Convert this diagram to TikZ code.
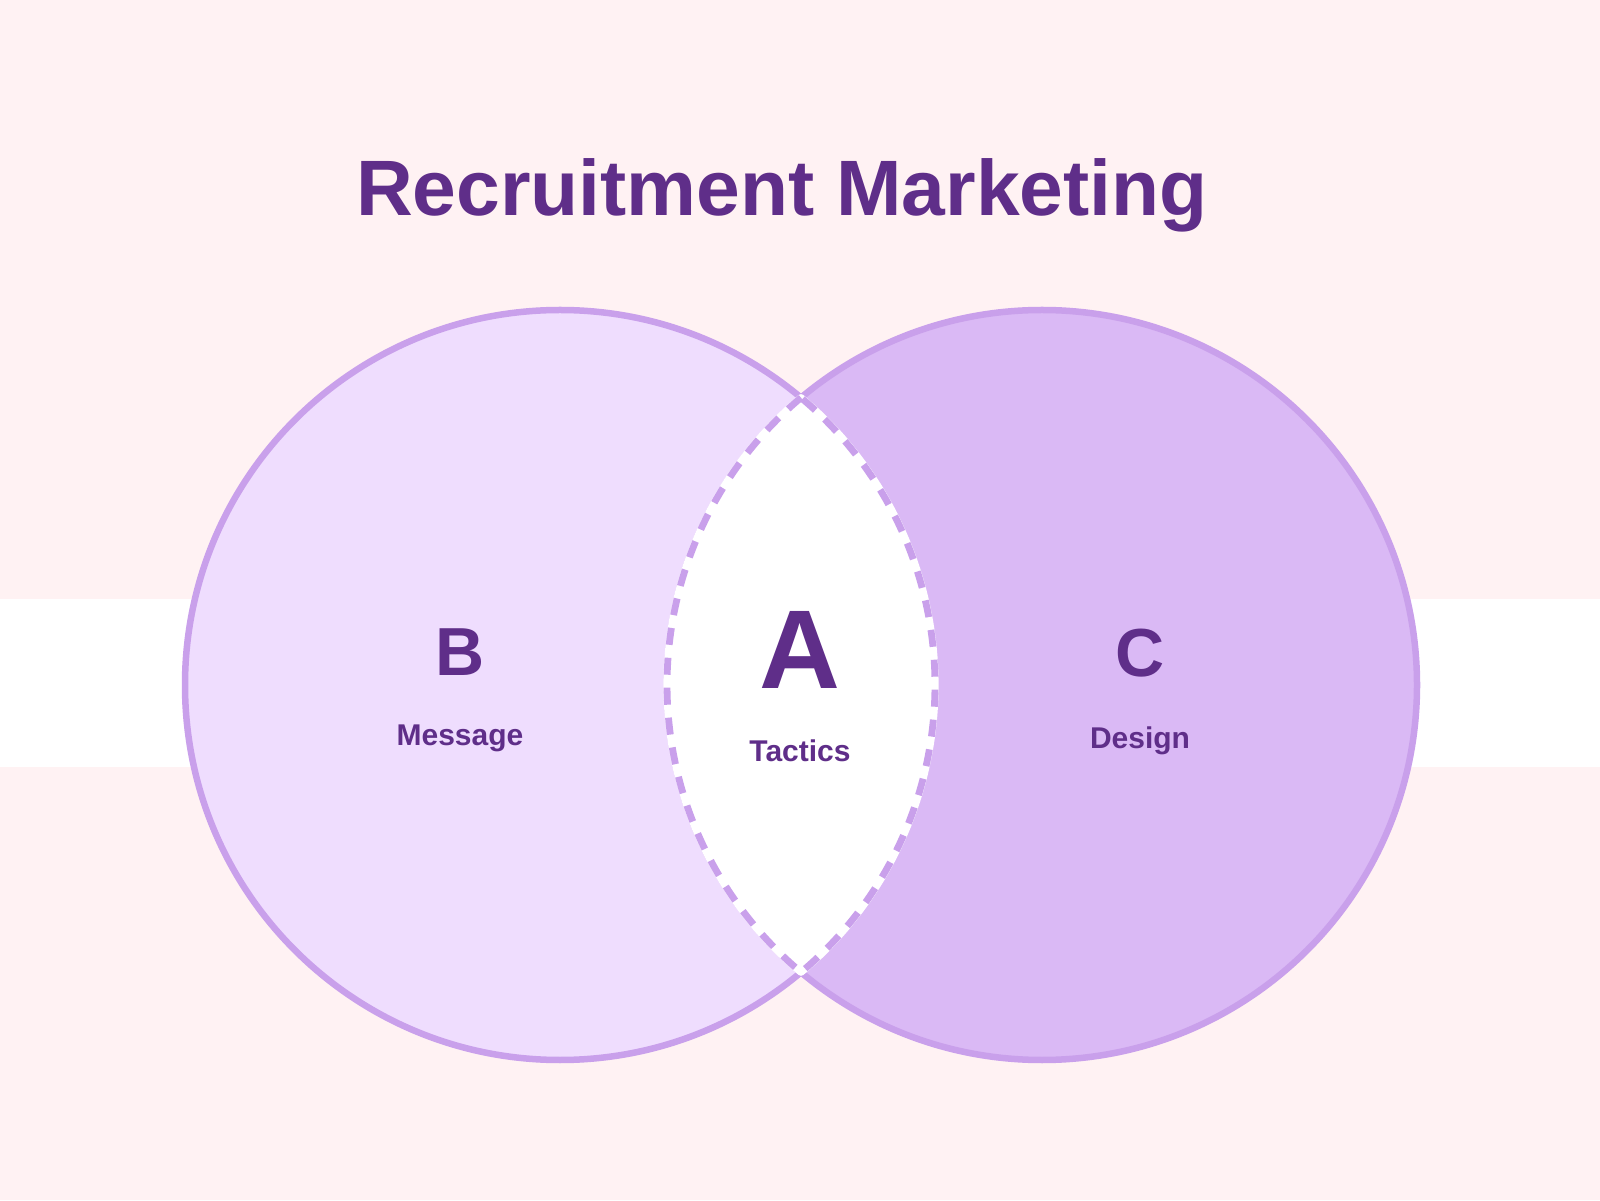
\documentclass[tikz,border=0pt]{standalone}
\usepackage{fontspec}
\setmainfont{Liberation Sans}
\definecolor{bgpink}{HTML}{FFF2F3}
\definecolor{lfill}{HTML}{EFDDFE}
\definecolor{rfill}{HTML}{DAB9F5}
\definecolor{ring}{HTML}{C9A0EB}
\definecolor{ink}{HTML}{5F2E89}
\tikzset{
  ringline/.style={draw=ring, line width=3.25pt},
  lbl/.style={text=ink, font=\bfseries, inner sep=0pt, anchor=base},
  bigletter/.style={lbl, font=\bfseries\fontsize{34pt}{34pt}\selectfont},
  smalltext/.style={lbl, font=\bfseries\fontsize{15pt}{15pt}\selectfont},
}
\begin{document}
\begin{tikzpicture}[x=0.5pt,y=0.5pt]
\useasboundingbox (0,0) rectangle (1600,1200);
\fill[bgpink] (0,0) rectangle (1600,1200);
\fill[white] (0,433) rectangle (1600,601);
% circles
\fill[lfill] (560,515) circle[radius=375];
\draw[ringline] (560,515) circle[radius=375];
\fill[rfill] (1042,515) circle[radius=375];
\draw[ringline] (1042,515) circle[radius=375];
% lens
\coordinate (lt) at (801,802.3);
\filldraw[fill=white, draw=white, line width=3.6pt, line join=round]
  (lt) arc[start angle=130, end angle=230, radius=375]
  arc[start angle=-50, end angle=50, radius=375] -- cycle;
\draw[draw=ring, line width=3.4pt, dash pattern=on 8.5pt off 6.5pt]
  (lt) arc[start angle=130, end angle=230, radius=375]
  arc[start angle=-50, end angle=50, radius=375] -- cycle;
% texts
\node[lbl, font=\bfseries\fontsize{39.3pt}{39.3pt}\selectfont] (title) at (782,984) {Recruitment Marketing};
\node[bigletter] (b) at (460,524) {B};
\node[smalltext] (msg) at (460,454) {Message};
\node[lbl, font=\bfseries\fontsize{56pt}{56pt}\selectfont] (a) at (800,511) {A};
\node[smalltext] (tac) at (800,438) {Tactics};
\node[bigletter] (c) at (1140,523) {C};
\node[smalltext] (des) at (1140,451) {Design};
\end{tikzpicture}
\end{document}
